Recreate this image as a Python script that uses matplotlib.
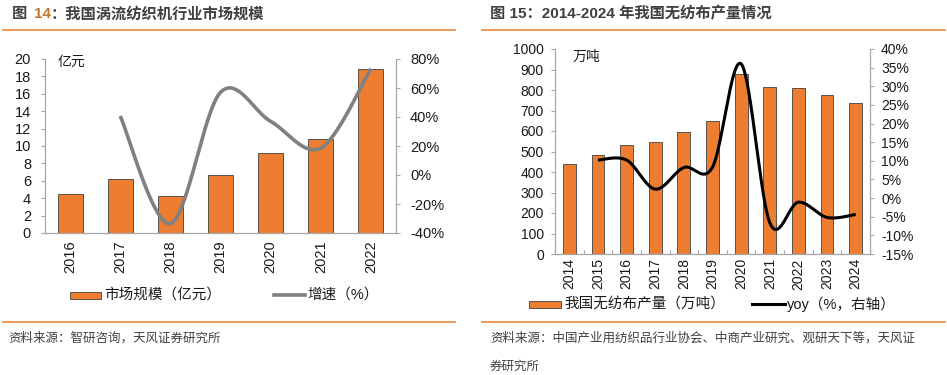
import numpy as np
import matplotlib
matplotlib.use("Agg")
import matplotlib.pyplot as plt
from matplotlib.patches import Rectangle
from matplotlib.lines import Line2D
from matplotlib.ticker import MultipleLocator, FuncFormatter

plt.rcParams['font.family'] = ['Liberation Sans', 'Noto Sans CJK SC', 'DejaVu Sans']

# 图14 数据
years_a = ['2016', '2017', '2018', '2019', '2020', '2021', '2022']
market_a = [4.45, 6.26, 4.3, 6.68, 9.17, 10.86, 18.85]
growth_a = [None, 40.7, -33.5, 57.0, 37.0, 18.6, 73.3]

# 图15 数据
years_b = ['2014', '2015', '2016', '2017', '2018', '2019', '2020', '2021', '2022', '2023', '2024']
output_b = [441, 485, 533, 546, 593, 649, 878, 816, 810, 774, 738]
yoy_b = [None, 10.2, 10.2, 2.4, 8.2, 8.3, 36.0, -6.6, -1.1, -5.2, -4.4]

ORANGE = '#ED7D31'
LINE_OR = '#E9873A'
SPINE = '#a6a6a6'
TXT = '#1a1a1a'


def smooth(xs, ys, n=40):
    # 类似Excel的平滑线
    xs = np.asarray(xs, float)
    ys = np.asarray(ys, float)
    px, py = [], []
    for i in range(len(xs) - 1):
        x0, y0 = xs[max(i - 1, 0)], ys[max(i - 1, 0)]
        x1, y1 = xs[i], ys[i]
        x2, y2 = xs[i + 1], ys[i + 1]
        x3, y3 = xs[min(i + 2, len(xs) - 1)], ys[min(i + 2, len(xs) - 1)]
        c1x, c1y = x1 + (x2 - x0) / 6, y1 + (y2 - y0) / 6
        c2x, c2y = x2 - (x3 - x1) / 6, y2 - (y3 - y1) / 6
        t = np.linspace(0, 1, n)
        bx = (1-t)**3*x1 + 3*(1-t)**2*t*c1x + 3*(1-t)*t**2*c2x + t**3*x2
        by = (1-t)**3*y1 + 3*(1-t)**2*t*c1y + 3*(1-t)*t**2*c2y + t**3*y2
        px.extend(bx)
        py.extend(by)
    return px, py


def style_axes(ax, ax2):
    for a in (ax, ax2):
        for s in a.spines.values():
            s.set_color(SPINE)
            s.set_linewidth(0.9)
        a.spines['top'].set_visible(False)
    ax.spines['right'].set_visible(False)
    ax2.spines['left'].set_visible(False)
    ax2.spines['bottom'].set_visible(False)
    ax.tick_params(axis='y', direction='out', length=3, width=0.8, color=SPINE,
                   labelsize=10.5, labelcolor=TXT, pad=7)
    ax2.tick_params(axis='y', direction='out', length=3, width=0.8, color=SPINE,
                    labelsize=10.5, labelcolor=TXT, pad=7)


fig = plt.figure(figsize=(9.47, 3.75), dpi=100)
W, H = 947, 375


def fx(px):
    return px / W


def fy(py):
    return 1 - py / H


# ---------- 左图 ----------
ax = fig.add_axes([fx(45), fy(233), fx(396) - fx(45), fy(59) - fy(233)])
xa = np.arange(len(years_a))
ax.bar(xa, market_a, width=0.5, color=ORANGE, edgecolor='#404040', linewidth=0.6)
ax.set_xlim(-0.5, len(years_a) - 0.5)
ax.set_ylim(0, 20)
ax.yaxis.set_major_locator(MultipleLocator(2))
ax.set_xticks(xa)
ax.set_xticklabels(years_a, rotation=90, fontsize=10.5, color=TXT)
ax.tick_params(axis='x', length=0, pad=5)
ax.text(0.037, 0.985, '亿元', transform=ax.transAxes, fontsize=10, color=TXT,
        va='center', ha='left')

ax2 = ax.twinx()
gx = [x for x, g in zip(xa, growth_a) if g is not None]
gy = [g for g in growth_a if g is not None]
sx, sy = smooth(gx, gy)
ax2.plot(sx, sy, color='#808080', linewidth=2.6, solid_capstyle='butt')
ax2.set_ylim(-40, 80)
ax2.yaxis.set_major_locator(MultipleLocator(20))
ax2.yaxis.set_major_formatter(FuncFormatter(lambda v, p: f'{v:.0f}%'))
style_axes(ax, ax2)

# ---------- 右图 ----------
bx = fig.add_axes([fx(555), fy(254), fx(870) - fx(555), fy(49) - fy(254)])
xb = np.arange(len(years_b))
bx.bar(xb, output_b, width=0.45, color=ORANGE, edgecolor='#404040', linewidth=0.6)
bx.set_xlim(-0.5, len(years_b) - 0.5)
bx.set_ylim(0, 1000)
bx.yaxis.set_major_locator(MultipleLocator(100))
bx.set_xticks(xb)
bx.set_xticklabels(years_b, rotation=90, fontsize=10, color=TXT)
bx.tick_params(axis='x', length=0, pad=3)
bx.set_xticks(np.arange(len(years_b) + 1) - 0.5, minor=True)
bx.tick_params(axis='x', which='minor', direction='in', length=3, width=0.8, color=SPINE)
bx.text(0.055, 0.96, '万吨', transform=bx.transAxes, fontsize=10, color=TXT,
        va='center', ha='left')

bx2 = bx.twinx()
yx = [x for x, g in zip(xb, yoy_b) if g is not None]
yy = [g for g in yoy_b if g is not None]
sx, sy = smooth(yx, yy)
bx2.plot(sx, sy, color='#000000', linewidth=2.2, solid_capstyle='butt')
bx2.set_ylim(-15, 40)
bx2.yaxis.set_major_locator(MultipleLocator(5))
bx2.yaxis.set_major_formatter(FuncFormatter(lambda v, p: f'{v:.0f}%'))
style_axes(bx, bx2)
for a in (bx, bx2):
    a.tick_params(axis='y', labelsize=10, pad=5)

# ---------- 标题与分隔线 ----------
renderer = fig.canvas.get_renderer()
x_cur = fx(12)
for part, col in [('图 ', '#404040'), ('14', '#C8782E'), ('：我国涡流纺织机行业市场规模', '#404040')]:
    t = fig.text(x_cur, fy(14), part, fontsize=11, fontweight='bold', color=col,
                 va='center', ha='left')
    bb = t.get_window_extent(renderer=renderer)
    x_cur = bb.x1 / W + (2 / W if part == '图 ' else 0)
fig.text(fx(490), fy(14), '图 15：2014-2024 年我国无纺布产量情况', fontsize=11,
         fontweight='bold', color='#404040', va='center', ha='left')

for x0, x1 in [(3, 455), (482, 945)]:
    fig.add_artist(Line2D([fx(x0), fx(x1)], [fy(30), fy(30)], color=LINE_OR, linewidth=1.2,
                          transform=fig.transFigure))
    fig.add_artist(Line2D([fx(x0), fx(x1)], [fy(322), fy(322)], color=LINE_OR, linewidth=1.2,
                          transform=fig.transFigure))

# ---------- 图例 ----------
fig.add_artist(Rectangle((fx(70), fy(299)), fx(101) - fx(70), fy(292) - fy(299),
                         facecolor=ORANGE, edgecolor='#404040', linewidth=0.6,
                         transform=fig.transFigure))
fig.text(fx(104), fy(295), '市场规模（亿元）', fontsize=10.5, color=TXT, va='center', ha='left')
fig.add_artist(Line2D([fx(274), fx(305)], [fy(295), fy(295)], color='#808080', linewidth=2.6,
                      transform=fig.transFigure))
fig.text(fx(307), fy(295), '增速（%）', fontsize=10.5, color=TXT, va='center', ha='left')

fig.add_artist(Rectangle((fx(529), fy(308)), fx(561) - fx(529), fy(301) - fy(308),
                         facecolor=ORANGE, edgecolor='#404040', linewidth=0.6,
                         transform=fig.transFigure))
fig.text(fx(564), fy(304), '我国无纺布产量（万吨）', fontsize=10.5, color=TXT, va='center', ha='left')
fig.add_artist(Line2D([fx(752), fx(785)], [fy(304), fy(304)], color='#000000', linewidth=2.2,
                      transform=fig.transFigure))
fig.text(fx(787), fy(304), 'yoy（%，右轴）', fontsize=10.5, color=TXT, va='center', ha='left')

# ---------- 资料来源 ----------
fig.text(fx(8), fy(338), '资料来源：智研咨询，天风证券研究所', fontsize=9, color='#404040',
         va='center', ha='left')
fig.text(fx(490), fy(338), '资料来源：中国产业用纺织品行业协会、中商产业研究、观研天下等，天风证',
         fontsize=9, color='#404040', va='center', ha='left')
fig.text(fx(490), fy(367), '券研究所', fontsize=9, color='#404040', va='center', ha='left')

fig.savefig('out.png', dpi=100)
